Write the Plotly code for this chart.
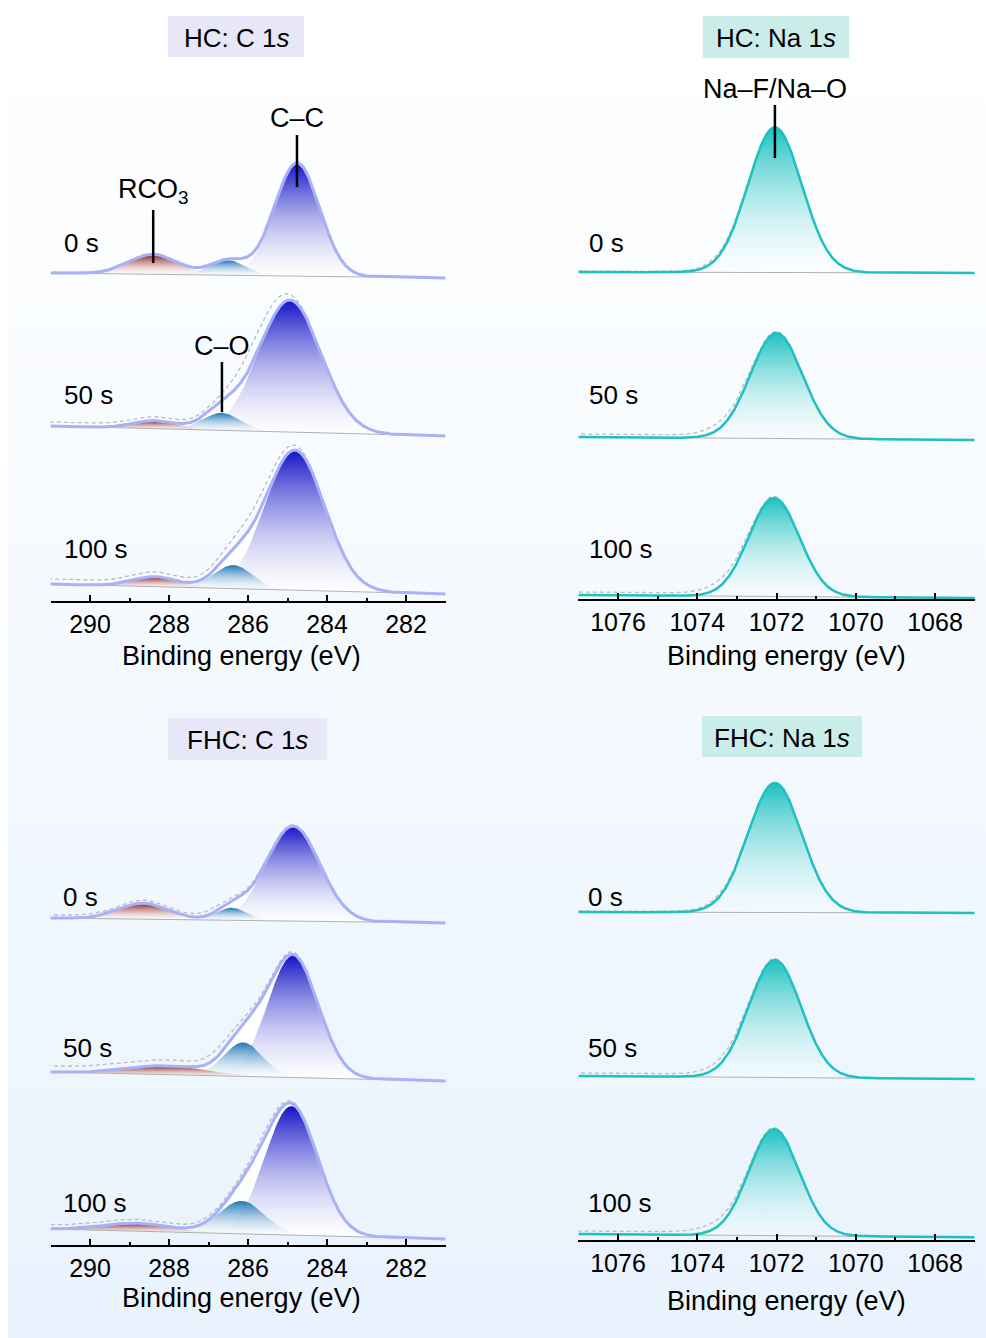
import numpy as np
import plotly.graph_objects as go

W, H = 986, 1338
FONT = "Arial, 'Liberation Sans', Helvetica, sans-serif"

etch_times = ["0 s", "50 s", "100 s"]

c1s_range = [291, 281]
na1s_range = [1077, 1067]
c1s_tick0 = 282
na1s_tick0 = 1068

# ---------------- HC: C 1s fits (0 s, 50 s, 100 s), stacked intensities (a.u.)
hc_c_bg_high = [328, 175, 17]      # linear background at 291 eV
hc_c_bg_low = [323, 165, 7]        # linear background at 281 eV
hc_cc_pos = [284.76, 284.94, 284.81]
hc_cc_fwhm = [1.35, 1.85, 1.77]
hc_cc_amp = [113, 132, 140]
hc_co_pos = [286.50, 286.66, 286.37]
hc_co_fwhm = [1.05, 1.10, 1.15]
hc_co_amp = [15, 17.5, 23.5]
hc_rco3_pos = [288.40, 288.35, 288.35]
hc_rco3_fwhm = [1.45, 1.30, 1.30]
hc_rco3_amp = [20, 8, 10]
# measured spectrum: Shirley step and residual intensity on top of the fit
hc_c_step = [1, 4, 5]
hc_c_res_pos = [284.2, 285.8, 285.8]
hc_c_res_fwhm = [0.8, 1.2, 1.4]
hc_c_res_amp = [3, 16, 10]

# ---------------- FHC: C 1s fits
fhc_c_bg_high = [327, 173, 16]
fhc_c_bg_low = [322, 164, 6]
fhc_cc_pos = [284.86, 284.86, 284.90]
fhc_cc_fwhm = [1.60, 1.50, 1.57]
fhc_cc_amp = [95, 122, 129]
fhc_co_pos = [286.41, 286.12, 286.16]
fhc_co_fwhm = [0.90, 1.15, 1.35]
fhc_co_amp = [12.5, 34, 33]
fhc_rco3_pos = [288.64, 288.05, 288.80]
fhc_rco3_fwhm = [1.50, 2.30, 2.00]
fhc_rco3_amp = [16, 9, 8]
fhc_c_step = [3, 6, 4]
fhc_c_res_pos = [286.9, 286.7, 285.6]
fhc_c_res_fwhm = [0.8, 0.8, 0.8]
fhc_c_res_amp = [2, 3, 4]

# ---------------- HC: Na 1s fits
hc_na_bg_high = [327, 162, 4]      # at 1077 eV
hc_na_bg_low = [326, 159, 1]       # at 1067 eV
hc_na_pos = [1072.04, 1072.00, 1072.06]
hc_na_fwhm = [1.60, 1.55, 1.50]
hc_na_amp = [145, 105.5, 98.5]
hc_na_step = [1, 3, 3]
hc_na_res_pos = [1073.4, 1073.4, 1073.4]
hc_na_res_fwhm = [1.0, 1.0, 1.0]
hc_na_res_amp = [2, 4, 4]

# ---------------- FHC: Na 1s fits
fhc_na_bg_high = [328, 164, 6]
fhc_na_bg_low = [327, 161, 2.7]
fhc_na_pos = [1072.04, 1072.04, 1072.06]
fhc_na_fwhm = [1.60, 1.55, 1.50]
fhc_na_amp = [129.5, 117.5, 106.5]
fhc_na_step = [1, 3, 3]
fhc_na_res_pos = [1073.4, 1073.4, 1073.5]
fhc_na_res_fwhm = [1.0, 1.0, 1.2]
fhc_na_res_amp = [2, 3, 4]

# ---------------- styling
CC_COLOR = "#1212C6"
CO_COLOR = "#1E76B6"
RCO3_COLOR = "#8A1A1A"
ENV_C = "#A8B0F8"
NA_COLOR = "#1DC1C1"
RAW_COLOR = "#BBBBBB"
BASE_COLOR = "#B0B0B0"

# panel frames in pixels: (left, right) and (top, axis line)
panels = {
    "hc_c": dict(xa="x2", ya="y2", xpx=(50.5, 445.5), ypx=(60, 601), rng=c1s_range, t0=c1s_tick0),
    "hc_na": dict(xa="x3", ya="y3", xpx=(578.4, 974.6), ypx=(60, 599), rng=na1s_range, t0=na1s_tick0),
    "fhc_c": dict(xa="x4", ya="y4", xpx=(50.5, 445.5), ypx=(770, 1245), rng=c1s_range, t0=c1s_tick0),
    "fhc_na": dict(xa="x5", ya="y5", xpx=(578.4, 974.6), ypx=(770, 1240), rng=na1s_range, t0=na1s_tick0),
}


def gauss(e, pos, fwhm, amp):
    sig = fwhm / (2.0 * np.sqrt(2.0 * np.log(2.0)))
    return amp * np.exp(-0.5 * ((e - pos) / sig) ** 2)


def lin_bg(e, lo_val, hi_val):
    return lo_val + (hi_val - lo_val) * (e - e[0]) / (e[-1] - e[0])


def step_bg(signal, height):
    cum = np.cumsum(signal)
    return height * cum / cum[-1]


fig = go.Figure()

# page background
fig.add_trace(go.Scatter(
    x=[0, 1, 1, 0, 0], y=[0, 0, 1, 1, 0], mode="lines", fill="toself",
    line=dict(width=0), hoverinfo="skip", showlegend=False,
    fillgradient=dict(type="vertical",
                      colorscale=[[0, "rgb(233,243,253)"], [1, "rgb(255,255,255)"]]),
    xaxis="x", yaxis="y"))


def gradient_patch(e, base, comp, color, xa, ya, thresh=0.01):
    keep = comp > thresh * comp.max()
    ex = e[keep]
    top = (base + comp)[keep]
    bot = base[keep]
    fig.add_trace(go.Scatter(
        x=np.concatenate([ex, ex[::-1], ex[:1]]),
        y=np.concatenate([top, bot[::-1], top[:1]]),
        mode="lines", fill="toself", line=dict(width=0),
        fillgradient=dict(type="vertical",
                          colorscale=[[0, "rgba(255,255,255,0.3)"], [1, color]]),
        hoverinfo="skip", showlegend=False, xaxis=xa, yaxis=ya))


def draw_spectrum(p, comps, bg_lo, bg_hi, step_h, res, env_color, env_width, white_under):
    xa, ya = p["xa"], p["ya"]
    lo, hi = p["rng"][1], p["rng"][0]
    e = np.linspace(lo, hi, 1001)
    base = lin_bg(e, bg_lo, bg_hi)
    comp_curves = [gauss(e, *c[:3]) for c in comps]
    signal = np.sum(comp_curves, axis=0)
    env = base + signal
    raw = env + step_bg(signal, step_h) + gauss(e, *res)

    if white_under:
        fig.add_trace(go.Scatter(
            x=np.concatenate([e, e[::-1]]), y=np.concatenate([env, base[::-1]]),
            mode="lines", fill="toself", fillcolor="rgba(255,255,255,0.95)",
            line=dict(width=0), hoverinfo="skip", showlegend=False, xaxis=xa, yaxis=ya))
    for c, curve in zip(comps, comp_curves):
        gradient_patch(e, base, curve, c[3], xa, ya)
    fig.add_trace(go.Scatter(x=e, y=base, mode="lines", line=dict(color=BASE_COLOR, width=1),
                             hoverinfo="skip", showlegend=False, xaxis=xa, yaxis=ya))
    fig.add_trace(go.Scatter(x=e, y=raw, mode="lines",
                             line=dict(color=RAW_COLOR, width=1.3, dash="4px,3px"),
                             hoverinfo="skip", showlegend=False, xaxis=xa, yaxis=ya))
    fig.add_trace(go.Scatter(x=e, y=env, mode="lines", line=dict(color=env_color, width=env_width),
                             hoverinfo="skip", showlegend=False, xaxis=xa, yaxis=ya))
    return e, env


# C 1s panels (draw largest component first)
for key, fit in [
    ("hc_c", (hc_cc_pos, hc_cc_fwhm, hc_cc_amp, hc_co_pos, hc_co_fwhm, hc_co_amp,
              hc_rco3_pos, hc_rco3_fwhm, hc_rco3_amp, hc_c_bg_low, hc_c_bg_high, hc_c_step,
              hc_c_res_pos, hc_c_res_fwhm, hc_c_res_amp)),
    ("fhc_c", (fhc_cc_pos, fhc_cc_fwhm, fhc_cc_amp, fhc_co_pos, fhc_co_fwhm, fhc_co_amp,
               fhc_rco3_pos, fhc_rco3_fwhm, fhc_rco3_amp, fhc_c_bg_low, fhc_c_bg_high, fhc_c_step,
               fhc_c_res_pos, fhc_c_res_fwhm, fhc_c_res_amp)),
]:
    (cc_p, cc_w, cc_a, co_p, co_w, co_a, r_p, r_w, r_a, b_lo, b_hi, st, rs_p, rs_w, rs_a) = fit
    for i in range(3):
        comps = [(cc_p[i], cc_w[i], cc_a[i], CC_COLOR),
                 (co_p[i], co_w[i], co_a[i], CO_COLOR),
                 (r_p[i], r_w[i], r_a[i], RCO3_COLOR)]
        draw_spectrum(panels[key], comps, b_lo[i], b_hi[i], st[i],
                      (rs_p[i], rs_w[i], rs_a[i]), ENV_C, 3, True)

# Na 1s panels
for key, fit in [
    ("hc_na", (hc_na_pos, hc_na_fwhm, hc_na_amp, hc_na_bg_low, hc_na_bg_high, hc_na_step,
               hc_na_res_pos, hc_na_res_fwhm, hc_na_res_amp)),
    ("fhc_na", (fhc_na_pos, fhc_na_fwhm, fhc_na_amp, fhc_na_bg_low, fhc_na_bg_high, fhc_na_step,
                fhc_na_res_pos, fhc_na_res_fwhm, fhc_na_res_amp)),
]:
    (n_p, n_w, n_a, b_lo, b_hi, st, rs_p, rs_w, rs_a) = fit
    for i in range(3):
        comps = [(n_p[i], n_w[i], n_a[i], NA_COLOR)]
        draw_spectrum(panels[key], comps, b_lo[i], b_hi[i], st[i],
                      (rs_p[i], rs_w[i], rs_a[i]), NA_COLOR, 2.5, False)

# axes
layout_axes = dict(
    xaxis=dict(domain=[8 / W, 1], range=[0, 1], visible=False, fixedrange=True),
    yaxis=dict(domain=[0, 1], range=[0, 1], visible=False, fixedrange=True),
)
for key, p in panels.items():
    xname = "xaxis" + p["xa"][1:]
    yname = "yaxis" + p["ya"][1:]
    x0, x1 = p["xpx"]
    top, bottom = p["ypx"]
    layout_axes[xname] = dict(
        domain=[x0 / W, x1 / W], range=p["rng"], anchor=p["ya"],
        showline=True, linecolor="black", linewidth=1.5,
        ticks="inside", ticklen=6, tickwidth=1.5, tickcolor="black",
        tickmode="linear", tick0=p["t0"], dtick=2,
        minor=dict(ticks="inside", ticklen=3.5, tickwidth=1.5, tickcolor="black",
                   tick0=p["t0"] - 1, dtick=1),
        showgrid=False, zeroline=False, fixedrange=True,
        tickfont=dict(size=25, color="black", family=FONT),
    )
    layout_axes[yname] = dict(
        domain=[1 - bottom / H, 1 - top / H], range=[0, bottom - top],
        anchor=p["xa"], visible=False, fixedrange=True)

fig.update_layout(**layout_axes)

annotations = []
shapes = []


def px_ann(text, x, y, size=26, xanchor="center"):
    annotations.append(dict(text=text, x=x / W, y=1 - y / H, xref="paper", yref="paper",
                            xanchor=xanchor, yanchor="middle", showarrow=False,
                            font=dict(size=size, color="black", family=FONT)))


# panel title boxes
for text, box, fill in [
    ("HC: C 1<i>s</i>", (168, 16, 304, 57), "#E7E7F7"),
    ("HC: Na 1<i>s</i>", (703, 16, 849, 58), "#CBEDEA"),
    ("FHC: C 1<i>s</i>", (168, 718, 327, 760), "#E7E7F7"),
    ("FHC: Na 1<i>s</i>", (702, 716, 862, 757), "#CBEDEA"),
]:
    bx0, by0, bx1, by1 = box
    shapes.append(dict(type="rect", xref="paper", yref="paper", layer="above",
                       x0=bx0 / W, x1=bx1 / W, y0=1 - by1 / H, y1=1 - by0 / H,
                       fillcolor=fill, line=dict(width=0)))
    px_ann(text, (bx0 + bx1) / 2, (by0 + by1) / 2 + 1, size=26)

# etch-time labels
for xl, ys in [(62, (243, 395, 549)), (587, (243, 395, 549)),
               (61, (897, 1048, 1203)), (586, (897, 1048, 1203))]:
    for lab, yy in zip(etch_times, ys):
        px_ann(lab, xl, yy, size=26, xanchor="left")

# axis titles
for xc, yc in [(241, 656), (786, 656), (241, 1298), (786, 1301)]:
    px_ann("Binding energy (eV)", xc, yc, size=27)


# peak assignments: marker line and label (y in stacked intensity units)
def marker(xa, ya, xpos, y0, y1, label, ylab):
    shapes.append(dict(type="line", xref=xa, yref=ya, x0=xpos, x1=xpos, y0=y0, y1=y1,
                       line=dict(color="black", width=2.5)))
    annotations.append(dict(text=label, x=xpos, y=ylab, xref=xa, yref=ya, showarrow=False,
                            xanchor="center", yanchor="middle",
                            font=dict(size=27, color="black", family=FONT)))


marker("x2", "y2", hc_cc_pos[0], 414, 466, "C–C", 483)
marker("x2", "y2", hc_rco3_pos[0], 338, 391, "RCO<sub>3</sub>", 410)
marker("x2", "y2", hc_co_pos[1], 189, 239, "C–O", 255)
marker("x3", "y3", hc_na_pos[0], 441, 494, "Na–F/Na–O", 510)

fig.update_layout(
    width=W, height=H, margin=dict(l=0, r=0, t=0, b=0),
    paper_bgcolor="white", plot_bgcolor="rgba(0,0,0,0)",
    showlegend=False, annotations=annotations, shapes=shapes,
    font=dict(family=FONT, color="black"),
)

fig.write_html("out.html")
